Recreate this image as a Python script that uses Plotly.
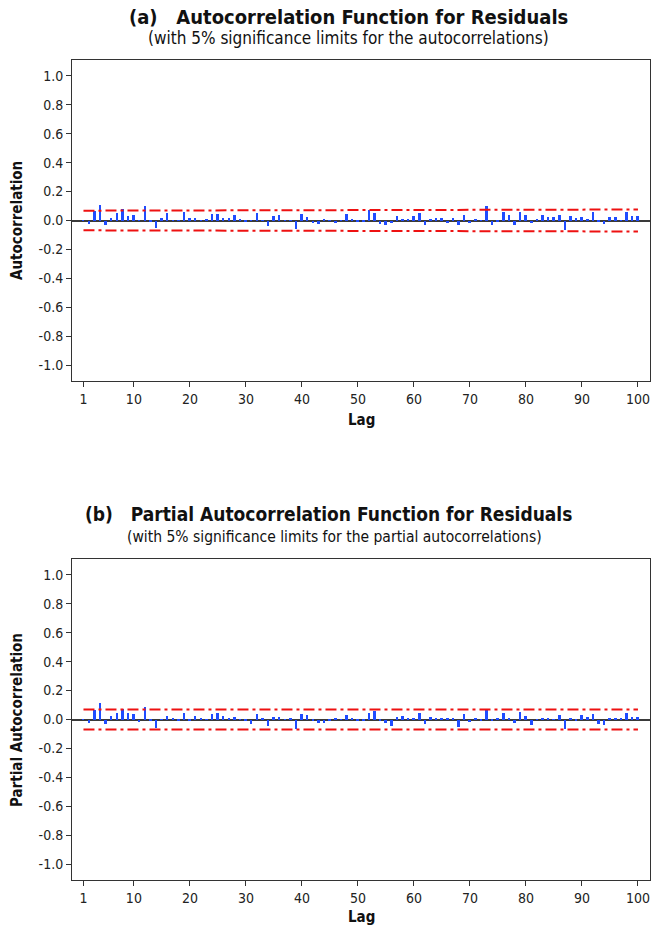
import plotly.graph_objects as go

# ---------------- data ----------------
lags = list(range(1, 101))

acf = [
    0.003, -0.023, 0.065, 0.108, -0.032, 0.018, 0.055, 0.078, 0.028, 0.041,
    0.002, 0.097, -0.008, -0.050, 0.016, 0.053, 0.002, -0.003, 0.060, 0.014,
    0.016, 0.003, 0.007, 0.046, 0.048, 0.014, 0.014, 0.041, 0.009, -0.009,
    -0.003, 0.053, 0.002, -0.039, 0.028, 0.041, 0.002, 0.002, -0.058, 0.046,
    0.023, -0.018, -0.025, 0.007, 0.002, -0.018, 0.002, 0.048, 0.005, -0.009,
    -0.009, 0.070, 0.053, -0.023, -0.028, -0.018, 0.028, 0.009, 0.007, 0.028,
    0.055, -0.032, 0.007, 0.018, 0.018, -0.018, 0.014, -0.032, 0.041, -0.016,
    0.007, 0.002, 0.099, -0.028, -0.009, 0.060, 0.041, -0.034, 0.062, 0.039,
    -0.016, 0.007, 0.037, 0.021, 0.021, 0.039, -0.065, 0.032, 0.016, 0.021,
    0.007, 0.058, -0.009, -0.025, 0.023, 0.021, 0.002, 0.062, 0.028, 0.028,
]

pacf = [
    0.003, -0.025, 0.067, 0.111, -0.032, 0.023, 0.046, 0.076, 0.042, 0.037,
    -0.016, 0.088, -0.012, -0.058, 0.002, 0.021, 0.007, -0.009, 0.042, -0.004,
    0.025, 0.005, 0.002, 0.037, 0.044, 0.021, 0.005, 0.014, 0.002, -0.012,
    -0.032, 0.035, 0.005, -0.046, 0.016, 0.018, 0.002, 0.007, -0.069, 0.035,
    0.028, -0.005, -0.023, -0.025, -0.009, 0.007, 0.002, 0.030, 0.007, -0.009,
    -0.012, 0.048, 0.058, -0.009, -0.025, -0.046, 0.014, 0.025, 0.007, 0.007,
    0.046, -0.028, 0.018, 0.007, 0.007, 0.007, 0.012, -0.051, 0.035, -0.016,
    0.007, -0.012, 0.076, -0.009, 0.007, 0.044, 0.013, -0.024, 0.055, 0.025,
    -0.035, 0.002, 0.009, 0.012, 0.002, 0.032, -0.069, 0.007, -0.012, 0.030,
    0.018, 0.039, -0.028, -0.035, 0.012, 0.012, 0.012, 0.044, 0.018, 0.016,
]

# 5% significance limits
acf_lim_lags = [1, 25, 50, 75, 100]
acf_lim_vals = [0.068, 0.070, 0.072, 0.074, 0.076]
pacf_lim_lags = [1, 100]
pacf_lim_vals = [0.069, 0.069]

x_ticks = [1, 10, 20, 30, 40, 50, 60, 70, 80, 90, 100]
y_ticks = [1.0, 0.8, 0.6, 0.4, 0.2, 0.0, -0.2, -0.4, -0.6, -0.8, -1.0]
y_ticktext = ["1.0", "0.8", "0.6", "0.4", "0.2", "0.0", "-0.2", "-0.4", "-0.6", "-0.8", "-1.0"]

# ---------------- figure ----------------
W, H = 652, 930
FONT = "DejaVu Sans Condensed, DejaVu Sans, sans-serif"
BAR = "#1f4cff"
RED = "#ee1111"
DASH = "11px,4px,3px,4px"

def py(p):   # screen pixel -> paper y
    return 1 - p / H

def px(p):   # screen pixel -> paper x
    return p / W

fig = go.Figure()

panels = [
    ("x", "y", acf, acf_lim_lags, acf_lim_vals),
    ("x2", "y2", pacf, pacf_lim_lags, pacf_lim_vals),
]
for xa, ya, vals, ll, lv in panels:
    fig.add_trace(go.Bar(x=lags, y=vals, width=0.35, marker=dict(color=BAR, line=dict(width=0)),
                         xaxis=xa, yaxis=ya, showlegend=False))
    for sgn in (1, -1):
        fig.add_trace(go.Scatter(x=ll, y=[sgn * v for v in lv], mode="lines",
                                 line=dict(color=RED, width=2, dash=DASH),
                                 xaxis=xa, yaxis=ya, showlegend=False, hoverinfo="skip"))

xdom = [px(72), px(650)]
common_x = dict(range=[-1.05, 102.15], tickmode="array", tickvals=x_ticks,
                ticks="outside", ticklen=5, tickcolor="#333", showline=True, linecolor="#333",
                linewidth=1, mirror=True, showgrid=False, zeroline=False,
                tickfont=dict(family=FONT, size=14, color="#222"))
common_y = dict(range=[-1.11, 1.11], tickmode="array", tickvals=y_ticks, ticktext=y_ticktext,
                ticks="outside", ticklen=5, tickcolor="#333", showline=True, linecolor="#333",
                linewidth=1, mirror=True, showgrid=False, zeroline=True,
                zerolinecolor="#3a3a3a", zerolinewidth=1.5,
                tickfont=dict(family=FONT, size=14, color="#222"))

fig.update_layout(
    width=W, height=H, margin=dict(l=0, r=0, t=0, b=0),
    paper_bgcolor="white", plot_bgcolor="white", bargap=0,
    xaxis=dict(domain=xdom, anchor="y", **common_x),
    yaxis=dict(domain=[py(381), py(60)], anchor="x", **common_y),
    xaxis2=dict(domain=xdom, anchor="y2", **common_x),
    yaxis2=dict(domain=[py(880), py(559)], anchor="x2", **common_y),
)

NB = "\u00a0"
annos = [
    (f"<b>(a){NB}{NB}{NB}Autocorrelation Function for Residuals</b>", 348, 17, 20, 0),
    ("(with 5% significance limits for the autocorrelations)", 348, 38, 17, 0),
    (f"<b>(b){NB}{NB}{NB}Partial Autocorrelation Function for Residuals</b>", 328, 514, 19, 0),
    ("(with 5% significance limits for the partial autocorrelations)", 334, 537, 15.5, 0),
    ("<b>Autocorrelation</b>", 17, 221, 15, -90),
    ("<b>Partial Autocorrelation</b>", 17, 720, 15, -90),
    ("<b>Lag</b>", 361, 420, 15, 0),
    ("<b>Lag</b>", 361, 917, 15, 0),
]
for text, x, y, size, ang in annos:
    fig.add_annotation(text=text, x=px(x), y=py(y), xref="paper", yref="paper",
                       xanchor="center", yanchor="middle", showarrow=False, textangle=ang,
                       font=dict(family=FONT, size=size, color="#111"))

# remove the default page margin so the 652x930 figure fills the window exactly
fig.write_html(
    "out.html",
    config={"displayModeBar": False},
    post_script="document.body.style.margin='0';document.documentElement.style.overflow='hidden';",
)
